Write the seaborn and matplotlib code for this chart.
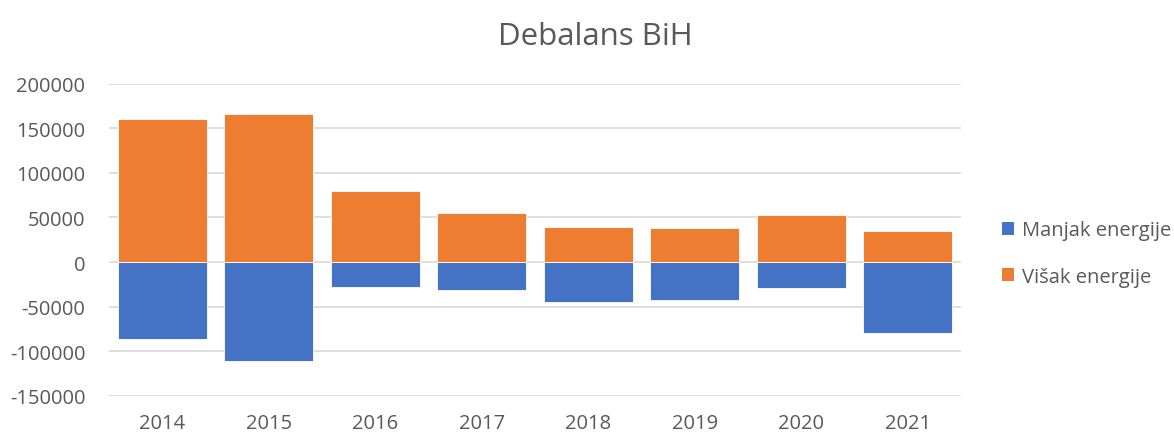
import matplotlib
matplotlib.use("Agg")
import matplotlib.pyplot as plt
import seaborn as sns
import pandas as pd
from matplotlib.patches import Patch

years = ["2014", "2015", "2016", "2017", "2018", "2019", "2020", "2021"]
manjak = [-86500, -111200, -28300, -31300, -44800, -42100, -29100, -79800]
visak = [160000, 166400, 79900, 55600, 39600, 38500, 52300, 35100]
series_names = ["Manjak energije", "Višak energije"]
colors = ["#4472C4", "#ED7D31"]
yticks = [-150000, -100000, -50000, 0, 50000, 100000, 150000, 200000]

sns.set_style("white")
plt.rcParams["font.family"] = ["Open Sans", "DejaVu Sans"]

df = pd.DataFrame({
    "year": years * 2,
    "value": manjak + visak,
    "series": [series_names[0]] * len(years) + [series_names[1]] * len(years),
})

fig = plt.figure(figsize=(11.74, 4.35), dpi=100)
ax = fig.add_axes([0.0928, 0.088, 0.7257, 0.717])

sns.barplot(data=df, x="year", y="value", hue="series", dodge=False,
            palette=dict(zip(series_names, colors)), width=0.836, saturation=1,
            edgecolor="white", linewidth=0.6, ax=ax, legend=False, zorder=3)

ax.set_ylim(-150000, 200000)
ax.set_xlim(-0.5, len(years) - 0.5)
ax.set_yticks(yticks)
ax.set_yticklabels([str(v) for v in yticks])
ax.set_xlabel("")
ax.set_ylabel("")
for s in ax.spines.values():
    s.set_visible(False)
ax.grid(axis="y", color="#D9D9D9", linewidth=1.2, zorder=0)
ax.set_axisbelow(True)
ax.tick_params(axis="y", length=0, pad=17, labelsize=14.5, labelcolor="#595959")
ax.tick_params(axis="x", length=0, pad=12.5, labelsize=14.5, labelcolor="#595959")

fig.text(0.507, 0.915, "Debalans BiH", ha="center", va="center",
         fontsize=22.5, color="#595959")

handles = [Patch(facecolor=c, edgecolor="none") for c in colors]
leg = fig.legend(handles, series_names, loc="center left",
                 bbox_to_anchor=(0.838, 0.415), frameon=False,
                 fontsize=14.5, handlelength=0.6, handleheight=0.6,
                 handletextpad=0.4, labelspacing=1.3)
for t in leg.get_texts():
    t.set_color("#595959")

fig.savefig("out.png", dpi=100)
